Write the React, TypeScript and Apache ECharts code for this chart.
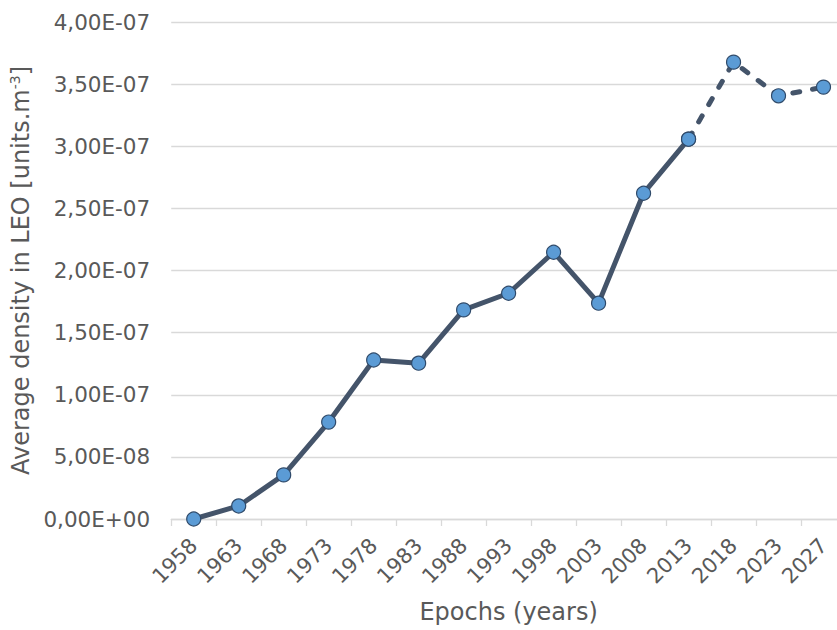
import React, { useEffect, useRef } from "react";
import * as echarts from "echarts";

const years = ["1958", "1963", "1968", "1973", "1978", "1983", "1988", "1993", "1998", "2003", "2008", "2013", "2018", "2023", "2027"];
const density = [0, 1.05e-8, 3.55e-8, 7.8e-8, 1.28e-7, 1.254e-7, 1.683e-7, 1.817e-7, 2.147e-7, 1.737e-7, 2.622e-7, 3.057e-7, 3.677e-7, 3.406e-7, 3.476e-7];
const lastObservedIndex = 11; // 2013: from here on the line is dashed (projection)

const yMin = 0;
const yMax = 4e-7;
const yStep = 0.5e-7;

function fmtSci(v: number): string {
  if (Math.abs(v) < 1e-20) return "0,00E+00";
  const s = v.toExponential(2);
  const [m, e] = s.split("e");
  const ei = parseInt(e, 10);
  const sign = ei < 0 ? "-" : "+";
  const ab = Math.abs(ei).toString().padStart(2, "0");
  return m.replace(".", ",") + "E" + sign + ab;
}

export default function App() {
  const ref = useRef<HTMLDivElement>(null);
  useEffect(() => {
    if (!ref.current) return;
    const chart = echarts.init(ref.current, undefined, { renderer: "svg" });
    const solid = density.map((v, i) => (i <= lastObservedIndex ? v : null));
    const dashed = density.map((v, i) => (i >= lastObservedIndex ? v : null));
    const font = "DejaVu Sans";
    const lineColor = "#44546A";
    const markerFill = "#5B9BD5";
    const markerBorder = "#2F4A6A";
    chart.setOption({
      animation: false,
      backgroundColor: "#ffffff",
      grid: { left: 171, top: 22, right: 0, bottom: 111, containLabel: false },
      xAxis: {
        type: "category",
        data: years,
        boundaryGap: true,
        name: "Epochs (years)",
        nameLocation: "middle",
        nameGap: 81,
        nameTextStyle: { fontFamily: font, fontSize: 24, color: "#595959" },
        axisLine: { lineStyle: { color: "#D9D9D9", width: 1.3 } },
        axisTick: { show: true, length: 7, lineStyle: { color: "#D9D9D9", width: 1.3 } },
        axisLabel: { rotate: 45, fontFamily: font, fontSize: 21, color: "#595959", margin: 23, interval: 0 },
        splitLine: { show: false },
      },
      yAxis: {
        type: "value",
        min: yMin,
        max: yMax,
        interval: yStep,
        name: "{a|Average density in LEO [units.m}{sup|-3}{a|]}",
        nameLocation: "middle",
        nameGap: 130,
        nameTextStyle: {
          fontFamily: font,
          fontSize: 24,
          color: "#595959",
          rich: {
            a: { fontFamily: font, fontSize: 24, color: "#595959" },
            sup: { fontFamily: font, fontSize: 14, color: "#595959", padding: [0, 0, 11, 0] },
          },
        },
        axisLine: { show: false },
        axisTick: { show: false },
        axisLabel: { fontFamily: font, fontSize: 21.5, color: "#595959", margin: 21, formatter: (v: number) => fmtSci(v) },
        splitLine: { lineStyle: { color: "#D9D9D9", width: 1.3 } },
      },
      series: [
        {
          type: "line",
          data: solid,
          symbol: "circle",
          symbolSize: 14,
          lineStyle: { color: lineColor, width: 5 },
          itemStyle: { color: markerFill, borderColor: markerBorder, borderWidth: 1.2 },
          z: 2,
        },
        {
          type: "line",
          data: dashed,
          symbol: "circle",
          symbolSize: 14,
          lineStyle: { color: lineColor, width: 5, type: [7, 13], cap: "round" },
          itemStyle: { color: markerFill, borderColor: markerBorder, borderWidth: 1.2 },
          z: 3,
        },
      ],
    });
    return () => chart.dispose();
  }, []);
  return (
    <div style={{ position: "fixed", left: 0, top: 0, width: 837, height: 630, overflow: "hidden" }}>
      <div ref={ref} style={{ width: 846, height: 630 }} />
    </div>
  );
}
